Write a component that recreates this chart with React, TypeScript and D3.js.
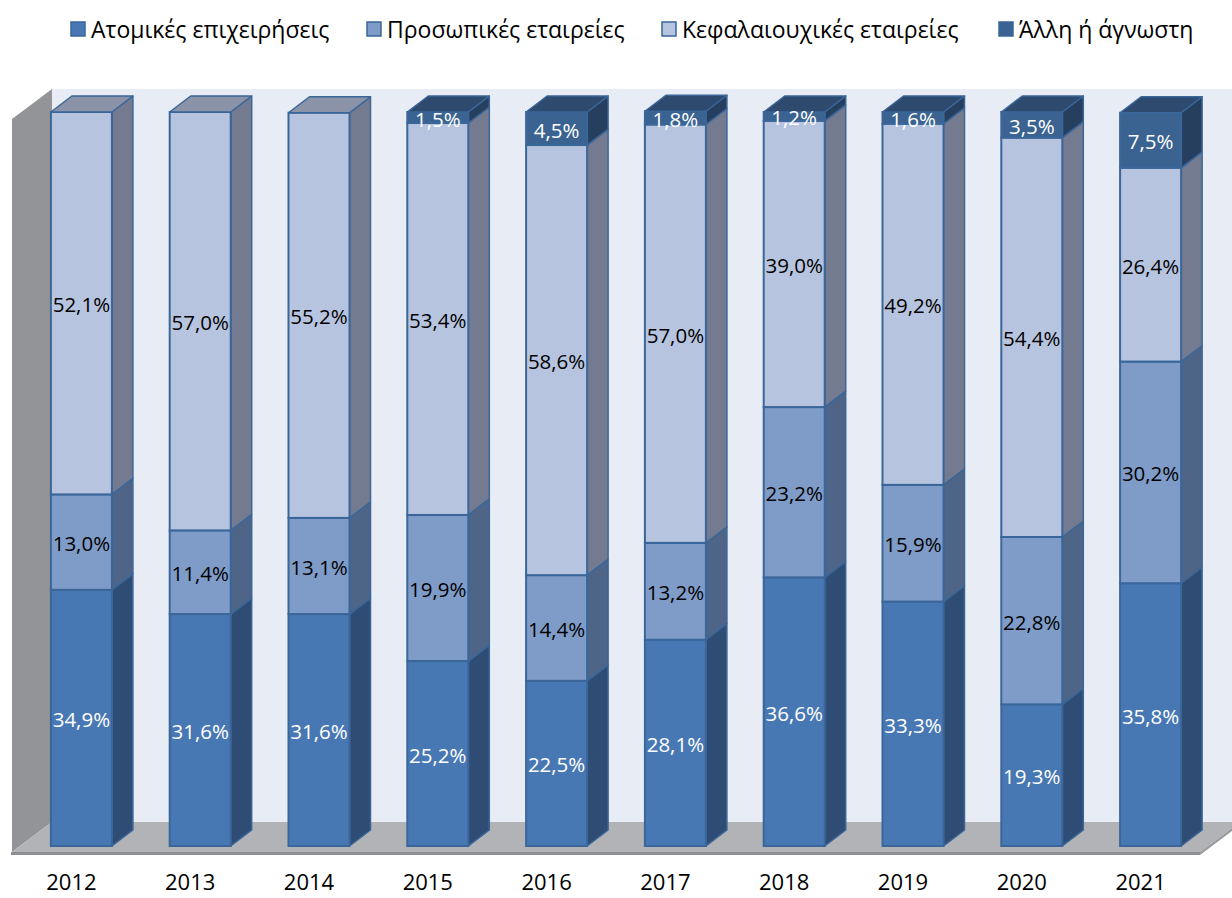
import React from "react";
import * as d3 from "d3";

const years = ["2012", "2013", "2014", "2015", "2016", "2017", "2018", "2019", "2020", "2021"];
const seriesNames = ["Ατομικές επιχειρήσεις", "Προσωπικές εταιρείες", "Κεφαλαιουχικές εταιρείες", "Άλλη ή άγνωστη"];
const atomikes = [34.9, 31.6, 31.6, 25.2, 22.5, 28.1, 36.6, 33.3, 19.3, 35.8];
const prosopikes = [13.0, 11.4, 13.1, 19.9, 14.4, 13.2, 23.2, 15.9, 22.8, 30.2];
const kefalaiouxikes = [52.1, 57.0, 55.2, 53.4, 58.6, 57.0, 39.0, 49.2, 54.4, 26.4];
const alli = [0, 0, 0, 1.5, 4.5, 1.8, 1.2, 1.6, 3.5, 7.5];
const series = [atomikes, prosopikes, kefalaiouxikes, alli];

const fronts = ["#4878b4", "#7f9cc9", "#b7c4df", "#3b6391"];
const sides = ["#2f4d74", "#4e6587", "#747b90", "#263f5f"];
const tops = ["#3a5f8f", "#62799f", "#8a93a7", "#2e4a6e"];
const labelColors = ["#ffffff", "#000000", "#000000", "#ffffff"];
const legendX = [71, 367, 662, 999];

const FONT = "'Open Sans', 'DejaVu Sans', sans-serif";

export default function App() {
  const W = 1232, H = 898;
  const floorFrontY = 852, floorBackY = 822;
  const floorDx = 40;
  const wallLeft = 52, wallTop = 89;
  const barBottom = 846;
  const dx = 21, dy = 16;

  const y = d3.scaleLinear().domain([0, 100]).range([barBottom, 112]);
  const xBar = d3.scaleBand<string>().domain(years).range([22, 1210]).paddingInner(1 - 61 / 118.8).paddingOuter((1 - 61 / 118.8) / 2);
  const xAxis = d3.scaleBand<string>().domain(years).range([12, 1200]);
  const bw = xBar.bandwidth();
  const stroke = "#3a6699";

  const bars = years.map((yr, i) => {
    const x0 = xBar(yr)!;
    let cum = 0;
    const segs = [] as any[];
    const n = series.filter((s) => s[i] > 0).length;
    let k = 0;
    series.forEach((s, si) => {
      const v = s[i];
      if (v <= 0) return;
      const yb = y(cum);
      cum += v;
      const yt = y(cum);
      k++;
      const isTop = k === n;
      segs.push(
        <g key={si}>
          <polygon points={`${x0 + bw},${yb} ${x0 + bw + dx},${yb - dy} ${x0 + bw + dx},${yt - dy} ${x0 + bw},${yt}`} fill={sides[si]} stroke={stroke} strokeWidth={1.5} strokeLinejoin="round" />
          <rect x={x0} y={yt} width={bw} height={yb - yt} fill={fronts[si]} stroke={stroke} strokeWidth={2} />
          {isTop && (
            <polygon points={`${x0},${yt} ${x0 + bw},${yt} ${x0 + bw + dx},${yt - dy} ${x0 + dx},${yt - dy}`} fill={tops[si]} stroke={stroke} strokeWidth={1.5} strokeLinejoin="round" />
          )}
        </g>
      );
    });
    return <g key={yr}>{segs}</g>;
  });

  const labels = years.map((yr, i) => {
    const x0 = xBar(yr)!;
    let cum = 0;
    return (
      <g key={yr}>
        {series.map((s, si) => {
          const v = s[i];
          if (v <= 0) return null;
          const yb = y(cum);
          cum += v;
          const yt = y(cum);
          return (
            <text key={si} x={x0 + bw / 2} y={(yb + yt) / 2 + 1} textAnchor="middle" dominantBaseline="central" fontFamily={FONT} fontSize={20.5} fill={labelColors[si]}>
              {v.toFixed(1).replace(".", ",")}%
            </text>
          );
        })}
      </g>
    );
  });

  return (
    <svg width={W} height={H} style={{ display: "block", position: "absolute", left: 0, top: 0 }}>
      <rect width={W} height={H} fill="#ffffff" />
      {/* back wall */}
      <rect x={wallLeft} y={wallTop} width={W - wallLeft + 20} height={floorBackY - wallTop} fill="#e8ecf5" />
      {/* side wall */}
      <polygon points={`12,${wallTop + 30} ${wallLeft},${wallTop} ${wallLeft},${floorBackY} 12,${floorFrontY}`} fill="#939497" />
      {/* floor */}
      <polygon points={`12,${floorFrontY} 1200,${floorFrontY} ${1200 + floorDx},${floorBackY} ${wallLeft},${floorBackY}`} fill="#b2b3b7" />
      <rect x={11} y={floorFrontY} width={1189} height={3} fill="#8e8f92" />
      <polygon points={`1200,${floorFrontY} ${1200 + floorDx},${floorBackY} ${1200 + floorDx},${floorBackY + 3} 1200,${floorFrontY + 3}`} fill="#9a9b9e" />
      {bars}
      {labels}
      {/* x axis labels */}
      {years.map((yr) => (
        <text key={yr} x={xAxis(yr)! + xAxis.bandwidth() / 2} y={890} textAnchor="middle" fontFamily={FONT} fontSize={22} fill="#000">
          {yr}
        </text>
      ))}
      {/* legend */}
      {seriesNames.map((nm, i) => (
        <g key={nm}>
          <rect x={legendX[i]} y={22} width={14} height={14} fill={fronts[i]} stroke={stroke} strokeWidth={1.5} />
          <text x={legendX[i] + 20} y={29} dominantBaseline="central" fontFamily={FONT} fontSize={23} fill="#000">
            {nm}
          </text>
        </g>
      ))}
    </svg>
  );
}
